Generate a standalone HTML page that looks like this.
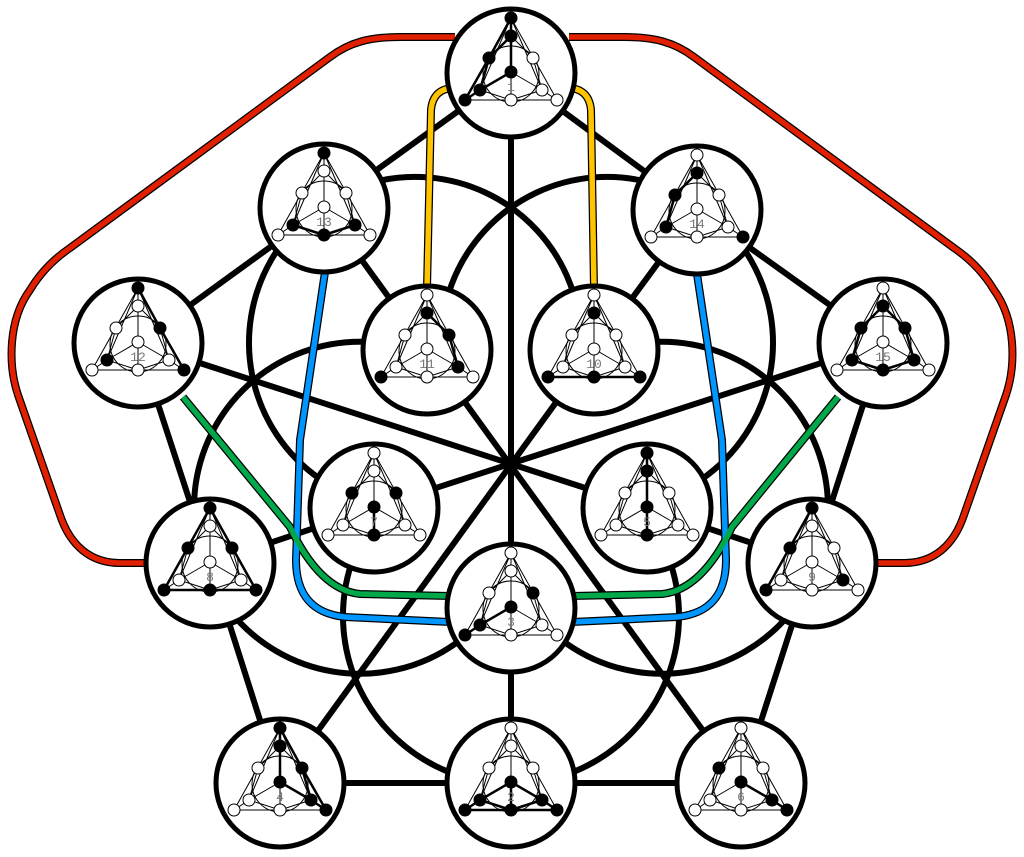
<!DOCTYPE html>
<html><head><meta charset="utf-8"><style>html,body{margin:0;padding:0;background:#fff}svg{display:block}</style></head><body>
<svg width="1024" height="857" viewBox="0 0 1024 857" xmlns="http://www.w3.org/2000/svg" font-family="Liberation Mono, DejaVu Sans Mono, monospace">
<defs>
<g id="thin" fill="none" stroke="#000" stroke-width="1">
<circle cx="0" cy="1" r="28"/>
<path d="M0,-55 L-46,27 L46,27 Z M0,-55 L0,27 M0,-1 L-31,17 M0,-1 L31,17 M-22,-15 L-31,17 L-46,27 M22,-15 L31,17 L46,27 M0,-37 L-22,-15 M0,-37 L22,-15 M-31,17 L0,27 L31,17 M0,-55 L-31,17 M0,-55 L31,17"/>
</g>
</defs>
<!-- big arcs -->
<g fill="none" stroke="#000" stroke-width="6">
<path d="M581,343 A166,166 0 1 0 375,504"/>
<path d="M441,343 A166,166 0 1 1 647,504"/>
<path d="M425,355 A166,166 0 1 0 498,600"/>
<path d="M597,355 A166,166 0 1 1 524,600"/>
<path d="M379,512 A168,168 0 1 0 643,512"/>
</g>
<!-- straight edges -->
<g stroke="#000" stroke-width="6" stroke-linecap="round">
<line x1="511" y1="73" x2="511" y2="783"/>
<line x1="427" y1="350" x2="741" y2="783"/>
<line x1="594" y1="350" x2="280" y2="783"/>
<line x1="138" y1="343" x2="647" y2="508"/>
<line x1="883" y1="343" x2="374" y2="508"/>
<line x1="511" y1="73" x2="324" y2="208"/>
<line x1="511" y1="73" x2="697" y2="210"/>
<line x1="324" y1="208" x2="138" y2="343"/>
<line x1="697" y1="210" x2="883" y2="343"/>
<line x1="138" y1="343" x2="210" y2="563"/>
<line x1="883" y1="343" x2="812" y2="563"/>
<line x1="210" y1="563" x2="280" y2="783"/>
<line x1="812" y1="563" x2="741" y2="783"/>
<line x1="280" y1="783" x2="741" y2="783"/>
<line x1="324" y1="208" x2="427" y2="350"/>
<line x1="697" y1="210" x2="594" y2="350"/>
<line x1="374" y1="508" x2="210" y2="563"/>
<line x1="647" y1="508" x2="812" y2="563"/>
</g>
<!-- colored routes -->
<g fill="none" stroke-linecap="butt" stroke-linejoin="round">
<g stroke="#000" stroke-width="8">
<path d="M147,563 H120 C90,563 70,545 60,515 L18,395 C8,365 8,320 30,290 Q45,265 70,248 L330,57 C350,42 370,37 400,37 L455,37"/>
<path d="M877,563 H904 C934,563 954,545 964,515 L1006,395 C1016,365 1016,320 994,290 Q979,265 954,248 L694,57 C674,42 654,37 624,37 L569,37"/>
<path d="M427,288 L431,110 Q433,88 455,88"/>
<path d="M594,288 L591,110 Q589,88 567,88"/>
<path d="M325,272 L300,440 L296,560 Q296,612 345,617 L450,622"/>
<path d="M697,274 L722,440 L726,560 Q726,612 677,617 L572,622"/>
<path d="M183,397 L290,527 Q320,590 360,594 L450,596"/>
<path d="M838,397 L732,527 Q702,590 662,594 L572,596"/>
</g>
<g stroke-width="5.5">
<path stroke="#e02000" d="M147,563 H120 C90,563 70,545 60,515 L18,395 C8,365 8,320 30,290 Q45,265 70,248 L330,57 C350,42 370,37 400,37 L455,37"/>
<path stroke="#e02000" d="M877,563 H904 C934,563 954,545 964,515 L1006,395 C1016,365 1016,320 994,290 Q979,265 954,248 L694,57 C674,42 654,37 624,37 L569,37"/>
<path stroke="#ffc400" d="M427,288 L431,110 Q433,88 455,88"/>
<path stroke="#ffc400" d="M594,288 L591,110 Q589,88 567,88"/>
<path stroke="#0096ff" d="M325,272 L300,440 L296,560 Q296,612 345,617 L450,622"/>
<path stroke="#0096ff" d="M697,274 L722,440 L726,560 Q726,612 677,617 L572,622"/>
<path stroke="#00a84a" d="M183,397 L290,527 Q320,590 360,594 L450,596"/>
<path stroke="#00a84a" d="M838,397 L732,527 Q702,590 662,594 L572,596"/>
</g>
</g>
<!-- nodes -->
<g stroke="#000">
<g transform="translate(511,73)"><circle r="64" fill="#fff" stroke-width="5"/><use href="#thin"/>
<path d="M0,-55 L-22,-15 L-46,27 M0,-55 L0,-1 L-31,17 L-46,27 M-22,-15 L-31,17 M0,-37 L-22,-15" stroke-width="2.5" fill="none"/>
<circle cx="0" cy="-55" r="6" fill="#000"/><circle cx="0" cy="-37" r="6" fill="#000"/><circle cx="-22" cy="-15" r="6" fill="#000"/><circle cx="22" cy="-15" r="6" fill="#fff"/><circle cx="0" cy="-1" r="6" fill="#000"/><circle cx="-31" cy="17" r="6" fill="#000"/><circle cx="31" cy="17" r="6" fill="#fff"/><circle cx="0" cy="27" r="6" fill="#fff"/><circle cx="-46" cy="27" r="6" fill="#000"/><circle cx="46" cy="27" r="6" fill="#fff"/>
<text x="0" y="18" font-size="13" fill="#777" stroke="none" text-anchor="middle">1</text></g>
<g transform="translate(324,208)"><circle r="64" fill="#fff" stroke-width="5"/><use href="#thin"/>
<path d="M-31,17 L0,27 L31,17" stroke-width="2.5" fill="none"/>
<circle cx="0" cy="-55" r="6" fill="#000"/><circle cx="0" cy="-37" r="6" fill="#fff"/><circle cx="-22" cy="-15" r="6" fill="#fff"/><circle cx="22" cy="-15" r="6" fill="#fff"/><circle cx="0" cy="-1" r="6" fill="#fff"/><circle cx="-31" cy="17" r="6" fill="#000"/><circle cx="31" cy="17" r="6" fill="#000"/><circle cx="0" cy="27" r="6" fill="#000"/><circle cx="-46" cy="27" r="6" fill="#fff"/><circle cx="46" cy="27" r="6" fill="#fff"/>
<text x="0" y="18" font-size="13" fill="#777" stroke="none" text-anchor="middle">13</text></g>
<g transform="translate(697,210)"><circle r="64" fill="#fff" stroke-width="5"/><use href="#thin"/>
<path d="M0,-37 L-22,-15 L-31,17" stroke-width="2.5" fill="none"/>
<circle cx="0" cy="-55" r="6" fill="#fff"/><circle cx="0" cy="-37" r="6" fill="#000"/><circle cx="-22" cy="-15" r="6" fill="#000"/><circle cx="22" cy="-15" r="6" fill="#fff"/><circle cx="0" cy="-1" r="6" fill="#fff"/><circle cx="-31" cy="17" r="6" fill="#000"/><circle cx="31" cy="17" r="6" fill="#fff"/><circle cx="0" cy="27" r="6" fill="#fff"/><circle cx="-46" cy="27" r="6" fill="#fff"/><circle cx="46" cy="27" r="6" fill="#000"/>
<text x="0" y="18" font-size="13" fill="#777" stroke="none" text-anchor="middle">14</text></g>
<g transform="translate(138,343)"><circle r="64" fill="#fff" stroke-width="5"/><use href="#thin"/>
<path d="M0,-55 L22,-15 L46,27" stroke-width="2.5" fill="none"/>
<circle cx="0" cy="-55" r="6" fill="#000"/><circle cx="0" cy="-37" r="6" fill="#fff"/><circle cx="-22" cy="-15" r="6" fill="#fff"/><circle cx="22" cy="-15" r="6" fill="#000"/><circle cx="0" cy="-1" r="6" fill="#fff"/><circle cx="-31" cy="17" r="6" fill="#000"/><circle cx="31" cy="17" r="6" fill="#fff"/><circle cx="0" cy="27" r="6" fill="#fff"/><circle cx="-46" cy="27" r="6" fill="#fff"/><circle cx="46" cy="27" r="6" fill="#000"/>
<text x="0" y="18" font-size="13" fill="#777" stroke="none" text-anchor="middle">12</text></g>
<g transform="translate(427,350)"><circle r="64" fill="#fff" stroke-width="5"/><use href="#thin"/>
<path d="M0,-37 L22,-15 L31,17" stroke-width="2.5" fill="none"/>
<circle cx="0" cy="-55" r="6" fill="#fff"/><circle cx="0" cy="-37" r="6" fill="#000"/><circle cx="-22" cy="-15" r="6" fill="#fff"/><circle cx="22" cy="-15" r="6" fill="#000"/><circle cx="0" cy="-1" r="6" fill="#fff"/><circle cx="-31" cy="17" r="6" fill="#fff"/><circle cx="31" cy="17" r="6" fill="#000"/><circle cx="0" cy="27" r="6" fill="#fff"/><circle cx="-46" cy="27" r="6" fill="#000"/><circle cx="46" cy="27" r="6" fill="#fff"/>
<text x="0" y="18" font-size="13" fill="#777" stroke="none" text-anchor="middle">11</text></g>
<g transform="translate(594,350)"><circle r="64" fill="#fff" stroke-width="5"/><use href="#thin"/>
<path d="M-46,27 L46,27" stroke-width="2.5" fill="none"/>
<circle cx="0" cy="-55" r="6" fill="#fff"/><circle cx="0" cy="-37" r="6" fill="#000"/><circle cx="-22" cy="-15" r="6" fill="#fff"/><circle cx="22" cy="-15" r="6" fill="#fff"/><circle cx="0" cy="-1" r="6" fill="#fff"/><circle cx="-31" cy="17" r="6" fill="#fff"/><circle cx="31" cy="17" r="6" fill="#fff"/><circle cx="0" cy="27" r="6" fill="#000"/><circle cx="-46" cy="27" r="6" fill="#000"/><circle cx="46" cy="27" r="6" fill="#000"/>
<text x="0" y="18" font-size="13" fill="#777" stroke="none" text-anchor="middle">10</text></g>
<g transform="translate(883,343)"><circle r="64" fill="#fff" stroke-width="5"/><use href="#thin"/>
<path d="M-31,17 L-22,-15 L0,-37 L22,-15 L31,17 L0,27 Z" stroke-width="2.5" fill="none"/>
<circle cx="0" cy="-55" r="6" fill="#fff"/><circle cx="0" cy="-37" r="6" fill="#000"/><circle cx="-22" cy="-15" r="6" fill="#000"/><circle cx="22" cy="-15" r="6" fill="#000"/><circle cx="0" cy="-1" r="6" fill="#fff"/><circle cx="-31" cy="17" r="6" fill="#000"/><circle cx="31" cy="17" r="6" fill="#000"/><circle cx="0" cy="27" r="6" fill="#000"/><circle cx="-46" cy="27" r="6" fill="#fff"/><circle cx="46" cy="27" r="6" fill="#fff"/>
<text x="0" y="18" font-size="13" fill="#777" stroke="none" text-anchor="middle">15</text></g>
<g transform="translate(374,508)"><circle r="64" fill="#fff" stroke-width="5"/><use href="#thin"/>
<path d="M0,-1 L0,27" stroke-width="2.5" fill="none"/>
<circle cx="0" cy="-55" r="6" fill="#fff"/><circle cx="0" cy="-37" r="6" fill="#fff"/><circle cx="-22" cy="-15" r="6" fill="#000"/><circle cx="22" cy="-15" r="6" fill="#000"/><circle cx="0" cy="-1" r="6" fill="#000"/><circle cx="-31" cy="17" r="6" fill="#fff"/><circle cx="31" cy="17" r="6" fill="#fff"/><circle cx="0" cy="27" r="6" fill="#000"/><circle cx="-46" cy="27" r="6" fill="#fff"/><circle cx="46" cy="27" r="6" fill="#fff"/>
<text x="0" y="18" font-size="13" fill="#777" stroke="none" text-anchor="middle">7</text></g>
<g transform="translate(647,508)"><circle r="64" fill="#fff" stroke-width="5"/><use href="#thin"/>
<path d="M0,-55 L0,27" stroke-width="2.5" fill="none"/>
<circle cx="0" cy="-55" r="6" fill="#000"/><circle cx="0" cy="-37" r="6" fill="#000"/><circle cx="-22" cy="-15" r="6" fill="#fff"/><circle cx="22" cy="-15" r="6" fill="#fff"/><circle cx="0" cy="-1" r="6" fill="#000"/><circle cx="-31" cy="17" r="6" fill="#fff"/><circle cx="31" cy="17" r="6" fill="#fff"/><circle cx="0" cy="27" r="6" fill="#000"/><circle cx="-46" cy="27" r="6" fill="#fff"/><circle cx="46" cy="27" r="6" fill="#fff"/>
<text x="0" y="18" font-size="13" fill="#777" stroke="none" text-anchor="middle">5</text></g>
<g transform="translate(210,563)"><circle r="64" fill="#fff" stroke-width="5"/><use href="#thin"/>
<path d="M0,-55 L-46,27 L46,27 Z" stroke-width="2.5" fill="none"/>
<circle cx="0" cy="-55" r="6" fill="#000"/><circle cx="0" cy="-37" r="6" fill="#fff"/><circle cx="-22" cy="-15" r="6" fill="#000"/><circle cx="22" cy="-15" r="6" fill="#000"/><circle cx="0" cy="-1" r="6" fill="#fff"/><circle cx="-31" cy="17" r="6" fill="#fff"/><circle cx="31" cy="17" r="6" fill="#fff"/><circle cx="0" cy="27" r="6" fill="#000"/><circle cx="-46" cy="27" r="6" fill="#000"/><circle cx="46" cy="27" r="6" fill="#000"/>
<text x="0" y="18" font-size="13" fill="#777" stroke="none" text-anchor="middle">8</text></g>
<g transform="translate(812,563)"><circle r="64" fill="#fff" stroke-width="5"/><use href="#thin"/>
<path d="M0,-55 L-46,27" stroke-width="2.5" fill="none"/>
<circle cx="0" cy="-55" r="6" fill="#000"/><circle cx="0" cy="-37" r="6" fill="#fff"/><circle cx="-22" cy="-15" r="6" fill="#000"/><circle cx="22" cy="-15" r="6" fill="#fff"/><circle cx="0" cy="-1" r="6" fill="#fff"/><circle cx="-31" cy="17" r="6" fill="#fff"/><circle cx="31" cy="17" r="6" fill="#000"/><circle cx="0" cy="27" r="6" fill="#fff"/><circle cx="-46" cy="27" r="6" fill="#000"/><circle cx="46" cy="27" r="6" fill="#fff"/>
<text x="0" y="18" font-size="13" fill="#777" stroke="none" text-anchor="middle">9</text></g>
<g transform="translate(511,608)"><circle r="64" fill="#fff" stroke-width="5"/><use href="#thin"/>
<path d="M0,-1 L-31,17 L-46,27" stroke-width="2.5" fill="none"/>
<circle cx="0" cy="-55" r="6" fill="#fff"/><circle cx="0" cy="-37" r="6" fill="#fff"/><circle cx="-22" cy="-15" r="6" fill="#fff"/><circle cx="22" cy="-15" r="6" fill="#000"/><circle cx="0" cy="-1" r="6" fill="#000"/><circle cx="-31" cy="17" r="6" fill="#000"/><circle cx="31" cy="17" r="6" fill="#fff"/><circle cx="0" cy="27" r="6" fill="#fff"/><circle cx="-46" cy="27" r="6" fill="#000"/><circle cx="46" cy="27" r="6" fill="#fff"/>
<text x="0" y="18" font-size="13" fill="#777" stroke="none" text-anchor="middle">3</text></g>
<g transform="translate(280,783)"><circle r="64" fill="#fff" stroke-width="5"/><use href="#thin"/>
<path d="M0,-55 L0,-1 L31,17 L46,27 M0,-55 L22,-15 L46,27 M22,-15 L31,17" stroke-width="2.5" fill="none"/>
<circle cx="0" cy="-55" r="6" fill="#000"/><circle cx="0" cy="-37" r="6" fill="#000"/><circle cx="-22" cy="-15" r="6" fill="#fff"/><circle cx="22" cy="-15" r="6" fill="#000"/><circle cx="0" cy="-1" r="6" fill="#000"/><circle cx="-31" cy="17" r="6" fill="#fff"/><circle cx="31" cy="17" r="6" fill="#000"/><circle cx="0" cy="27" r="6" fill="#fff"/><circle cx="-46" cy="27" r="6" fill="#fff"/><circle cx="46" cy="27" r="6" fill="#000"/>
<text x="0" y="18" font-size="13" fill="#777" stroke="none" text-anchor="middle">4</text></g>
<g transform="translate(511,783)"><circle r="64" fill="#fff" stroke-width="5"/><use href="#thin"/>
<path d="M-46,27 L46,27 M0,-1 L0,27 M0,-1 L-31,17 L-46,27 M0,-1 L31,17 L46,27 M-31,17 L0,27 L31,17" stroke-width="2.5" fill="none"/>
<circle cx="0" cy="-55" r="6" fill="#fff"/><circle cx="0" cy="-37" r="6" fill="#fff"/><circle cx="-22" cy="-15" r="6" fill="#fff"/><circle cx="22" cy="-15" r="6" fill="#fff"/><circle cx="0" cy="-1" r="6" fill="#000"/><circle cx="-31" cy="17" r="6" fill="#000"/><circle cx="31" cy="17" r="6" fill="#000"/><circle cx="0" cy="27" r="6" fill="#000"/><circle cx="-46" cy="27" r="6" fill="#000"/><circle cx="46" cy="27" r="6" fill="#000"/>
<text x="0" y="18" font-size="13" fill="#777" stroke="none" text-anchor="middle">2</text></g>
<g transform="translate(741,783)"><circle r="64" fill="#fff" stroke-width="5"/><use href="#thin"/>
<path d="M0,-1 L31,17 L46,27" stroke-width="2.5" fill="none"/>
<circle cx="0" cy="-55" r="6" fill="#fff"/><circle cx="0" cy="-37" r="6" fill="#fff"/><circle cx="-22" cy="-15" r="6" fill="#000"/><circle cx="22" cy="-15" r="6" fill="#fff"/><circle cx="0" cy="-1" r="6" fill="#000"/><circle cx="-31" cy="17" r="6" fill="#fff"/><circle cx="31" cy="17" r="6" fill="#000"/><circle cx="0" cy="27" r="6" fill="#fff"/><circle cx="-46" cy="27" r="6" fill="#fff"/><circle cx="46" cy="27" r="6" fill="#000"/>
<text x="0" y="18" font-size="13" fill="#777" stroke="none" text-anchor="middle">6</text></g>
</g>
</svg>
</body></html>
